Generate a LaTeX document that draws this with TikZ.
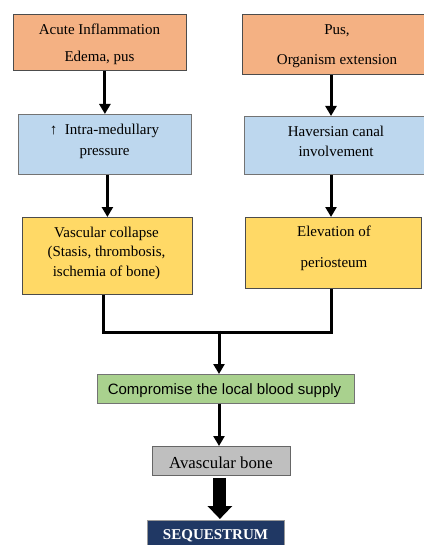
\documentclass[tikz,border=0pt]{standalone}
\usepackage{fontspec}
\setmainfont{Liberation Serif}
\setsansfont{Liberation Sans}
\usetikzlibrary{arrows.meta,calc}
\definecolor{corange}{HTML}{F4B183}
\definecolor{cblue}{HTML}{BDD7EE}
\definecolor{cyellow}{HTML}{FFD966}
\definecolor{cgreen}{HTML}{A9D18E}
\definecolor{cgray}{HTML}{BFBFBF}
\definecolor{cnavy}{HTML}{203864}
\newcommand{\fl}{\rule{0pt}{12pt}}
\begin{document}
\begin{tikzpicture}[x=1pt,y=-1pt,
  box/.style={draw=black!70,line width=0.8pt,anchor=north west,inner sep=0pt},
  txt/.style={align=center,inner sep=0pt,anchor=north,font=\fontsize{15}{#1}\selectfont},
  arr/.style={line width=3pt,-{Triangle[width=11pt,length=10pt]}},
  joinline/.style={line width=3pt}]
\useasboundingbox (0,0) rectangle (423,545);
\node[box,fill=corange,minimum width=173pt,minimum height=56pt] (b1) at (13,14) {};
\node[box,fill=corange,minimum width=182pt,minimum height=60pt] (b2) at (242,14) {};
\node[box,fill=cblue,draw=black!55,minimum width=173pt,minimum height=60pt] (b3) at (18,114) {};
\node[box,fill=cblue,draw=black!55,minimum width=180pt,minimum height=58pt] (b4) at (244,116) {};
\node[box,fill=cyellow,minimum width=170pt,minimum height=77pt] (b5) at (22,217) {};
\node[box,fill=cyellow,minimum width=176pt,minimum height=71pt] (b6) at (245,217) {};
\node[box,fill=cgreen,draw=black!55,minimum width=257pt,minimum height=29pt] (b7) at (97,374) {};
\node[box,fill=cgray,draw=black!60,minimum width=138pt,minimum height=29pt] (b8) at (152,446) {};
\node[box,fill=cnavy,draw=black!40,minimum width=137pt,minimum height=30pt] (b9) at (147,520) {};

% anchor north = first baseline - 12pt
\node[txt=27] (t1) at (99.5,22) {\fl Acute Inflammation\\Edema, pus};
\node[txt=30] (t2) at (337,22) {\fl Pus,\\Organism extension};
\node[txt=21] (t3) at (104.5,122) {\fl ↑\ \ Intra-medullary\\pressure};
\node[txt=20] (t4) at (336,124) {\fl Haversian canal\\involvement};
\node[txt=19.5] (t5) at (106.5,225) {\fl Vascular collapse\\(Stasis, thrombosis,\\ischemia of bone)};
\node[txt=31] (t6) at (334,224) {\fl Elevation of\\periosteum};
\node[txt=18,font=\sffamily\fontsize{15}{18}\selectfont] (t7) at (224.5,382) {\fl Compromise the local blood supply};
\node[txt=18,font=\fontsize{16.8}{18}\selectfont] (t8) at (221,456) {\fl Avascular bone};
\node[txt=18,text=white,font=\bfseries\fontsize{15}{18}\selectfont] (t9) at (215.5,527) {\fl SEQUESTRUM};

\coordinate (j) at (219,332);
\coordinate (cx) at (331,0);
\draw[arr] (b1.south -| b3.north) -- (b3.north);
\draw[arr] (b2.south -| cx) -- (cx |- b4.north);
\draw[arr] (b3.south -| b5.north) -- (b5.north);
\draw[arr] (b4.south -| cx) -- (cx |- b6.north);
\draw[joinline] ($(b5.south)+(-4,0)$) |- (j) -| ($(b6.south)+(-2,0)$);
\draw[arr] ($(j)+(0,-1.5)$) -- (j |- b7.north);
\draw[arr] (b7.south -| j) -- (j |- b8.north);
\draw[line width=13pt,-{Triangle[width=24pt,length=13pt]}] ($(b8.south)+(-1.5,2)$) -- ($(b9.north)+(4,-1)$);
\end{tikzpicture}
\end{document}
